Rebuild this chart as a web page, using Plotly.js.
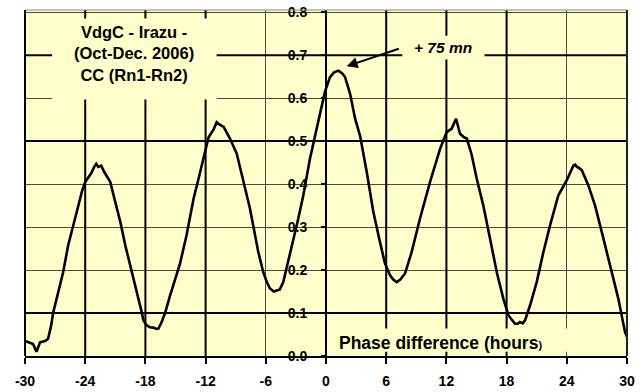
<!DOCTYPE html>
<html><head><meta charset="utf-8">
<script src="https://cdn.plot.ly/plotly-3.0.1.min.js"></script>
<style>html,body{margin:0;padding:0;background:#fff}#chart{width:641px;height:392px}</style>
</head><body><div id="chart"></div>
<script>
// Phase difference (hours)
const phase = [-30, -29.8, -29.5, -29.2, -28.85, -28.5, -28.0, -27.7, -27.4, -27.2, -26.85, -26.5, -26.2, -25.7, -25.2, -24.7, -24.3, -24.0, -23.7, -23.4, -23.1, -22.9, -22.7, -22.4, -22.1, -21.8, -21.5, -21.0, -20.5, -20.0, -19.5, -19.0, -18.7, -18.4, -18.2, -17.9, -17.55, -17.2, -16.9, -16.7, -16.4, -16.05, -15.55, -15.05, -14.55, -13.9, -13.2, -12.7, -12.3, -12.06, -11.7, -11.4, -11.2, -10.9, -10.6, -10.2, -9.9, -9.57, -8.9, -8.4, -7.58, -6.75, -6.25, -5.9, -5.58, -5.2, -4.9, -4.6, -4.26, -3.76, -3.3, -2.76, -2.26, -1.6, -0.93, -0.5, -0.1, 0.4, 0.8, 1.23, 1.6, 1.9, 2.4, 2.9, 3.39, 4.06, 4.72, 5.38, 5.88, 6.38, 6.7, 7.05, 7.4, 7.88, 8.54, 9.37, 10.37, 11.37, 11.8, 12.03, 12.53, 12.96, 13.36, 13.7, 14.03, 14.5, 15.02, 15.68, 16.35, 17.02, 17.68, 18.18, 18.5, 18.84, 19.1, 19.34, 19.6, 19.84, 20.34, 21.0, 21.67, 22.33, 23.16, 24.0, 24.4, 24.66, 24.85, 25.0, 25.2, 25.5, 26.15, 26.82, 27.65, 28.48, 29.14, 29.8, 30.0];
// Cross-correlation CC (Rn1-Rn2)
const cc = [0.035, 0.033, 0.03, 0.028, 0.01, 0.032, 0.035, 0.04, 0.07, 0.10, 0.133, 0.17, 0.195, 0.257, 0.304, 0.35, 0.385, 0.405, 0.415, 0.425, 0.44, 0.447, 0.44, 0.443, 0.428, 0.415, 0.405, 0.358, 0.312, 0.257, 0.211, 0.164, 0.133, 0.105, 0.083, 0.072, 0.067, 0.066, 0.063, 0.064, 0.078, 0.099, 0.14, 0.18, 0.215, 0.281, 0.366, 0.413, 0.45, 0.474, 0.509, 0.52, 0.527, 0.544, 0.538, 0.533, 0.52, 0.506, 0.471, 0.42, 0.343, 0.242, 0.195, 0.172, 0.157, 0.15, 0.153, 0.155, 0.172, 0.219, 0.265, 0.32, 0.374, 0.459, 0.529, 0.575, 0.615, 0.649, 0.66, 0.664, 0.658, 0.649, 0.61, 0.552, 0.513, 0.428, 0.335, 0.265, 0.215, 0.188, 0.178, 0.172, 0.178, 0.192, 0.242, 0.32, 0.405, 0.482, 0.51, 0.521, 0.529, 0.552, 0.517, 0.51, 0.506, 0.47, 0.413, 0.35, 0.273, 0.195, 0.133, 0.095, 0.085, 0.075, 0.075, 0.079, 0.076, 0.083, 0.118, 0.172, 0.242, 0.304, 0.374, 0.409, 0.43, 0.443, 0.445, 0.44, 0.438, 0.432, 0.397, 0.35, 0.273, 0.195, 0.133, 0.056, 0.045];

const xTicks = [-30, -24, -18, -12, -6, 0, 6, 12, 18, 24, 30];
const yTicks = [0, 0.1, 0.2, 0.3, 0.4, 0.5, 0.6, 0.7, 0.8];
const yTickText = ['0.0', '0.1', '0.2', '0.3', '0.4', '0.5', '0.6', '0.7', '0.8'];
const xGridThick = [-24, -18, -12, 6, 12, 18];
const yGridThick = [0.1, 0.5, 0.7];

const titleLines = ['VdgC - Irazu -', '(Oct-Dec. 2006)', 'CC (Rn1-Rn2)'];
const lagLabel = '+ 75 mn';
const xLabel = 'Phase difference (hours<span style="font-size:11px">)</span>';

const X_RANGE = [-30, 30];
const Y_RANGE = [0, 0.805];
const BG = '#FFFFCC';
const FONT = 'Liberation Sans, Arial, sans-serif';

const traces = [];
// heavier gridlines, one trace per line (thin ones come from the axes' own grid)
xGridThick.forEach(v => traces.push({x:[v, v], y:[Y_RANGE[0], Y_RANGE[1]], type:'scatter', mode:'lines', line:{color:'#000', width:2}, hoverinfo:'skip'}));
yGridThick.forEach(v => traces.push({x:[X_RANGE[0], X_RANGE[1]], y:[v, v], type:'scatter', mode:'lines', line:{color:'#000', width:2}, hoverinfo:'skip'}));
// background panels behind the text labels (hide the grid, not the curve)
function panel(x0, x1, y0, y1) {
  return {x:[x0, x1, x1, x0, x0], y:[y0, y0, y1, y1, y0], type:'scatter', mode:'lines', fill:'toself',
    fillcolor:BG, line:{width:0, color:BG}, hoverinfo:'skip'};
}
traces.push(panel(-27.3, -10.9, 0.597, 0.785));
traces.push(panel(7.6, 15.8, 0.69, 0.745));
traces.push(panel(0.4, 25, 0.01, 0.064));
traces.push({x: phase, y: cc, type:'scatter', mode:'lines', line:{color:'#000', width:2.6}, hoverinfo:'skip'});

const shapes = [
  {type:'line', layer:'above', xref:'paper', yref:'paper', x0:0, x1:1, y0:1, y1:1, line:{color:'#888', width:1}},
  {type:'line', layer:'above', xref:'paper', yref:'paper', x0:0, x1:0, y0:0, y1:1, line:{color:'#000', width:2}},
  {type:'line', layer:'above', xref:'paper', yref:'paper', x0:1, x1:1, y0:0, y1:1, line:{color:'#222', width:2}}
];

const layout = {
  width:641, height:392,
  margin:{l:25, r:14, t:10, b:36},
  paper_bgcolor:'#fff', plot_bgcolor:BG,
  showlegend:false,
  font:{family:FONT, color:'#000'},
  xaxis:{range:X_RANGE, tickvals:xTicks, ticktext:xTicks.map(String), showgrid:true, gridcolor:'#4a4a4a', gridwidth:1, zeroline:false,
    showline:true, linecolor:'#000', linewidth:2, ticks:'outside', ticklen:6, tickwidth:2, tickcolor:'#000',
    ticklabelstandoff:5, tickfont:{family:FONT, size:14, weight:'bold', color:'#000'}},
  yaxis:{range:Y_RANGE, tickvals:yTicks, ticktext:yTickText, anchor:'free', position:0.5, showgrid:true, gridcolor:'#4a4a4a', gridwidth:1, zeroline:false,
    showline:true, linecolor:'#000', linewidth:2, ticks:'outside', ticklen:4, tickwidth:2, tickcolor:'#000',
    ticklabelstandoff:11, tickfont:{family:FONT, size:14, weight:'bold', color:'#000'}},
  shapes: shapes,
  annotations:[
    {xref:'x', yref:'y', x:-19.1, y:0.703, text:titleLines.join('<br>'), showarrow:false, align:'center',
      font:{family:FONT, size:16.5, weight:'bold', color:'#000'}},
    {xref:'x', yref:'y', x:11.7, y:0.717, text:lagLabel, showarrow:false,
      font:{family:FONT, size:15.5, weight:'bold', style:'italic', color:'#000'}},
    {xref:'x', yref:'y', x:2.06, y:0.674, axref:'x', ayref:'y', ax:7.4, ay:0.716, text:'', showarrow:true,
      arrowhead:2, arrowsize:1.1, arrowwidth:2, arrowcolor:'#000', standoff:0},
    {xref:'x', yref:'y', x:1.1, y:0.0295, xanchor:'left', text:xLabel, showarrow:false,
      font:{family:FONT, size:17.5, weight:'bold', color:'#000'}}
  ]
};
Plotly.newPlot('chart', traces, layout, {displayModeBar:false, staticPlot:true});
</script></body></html>
